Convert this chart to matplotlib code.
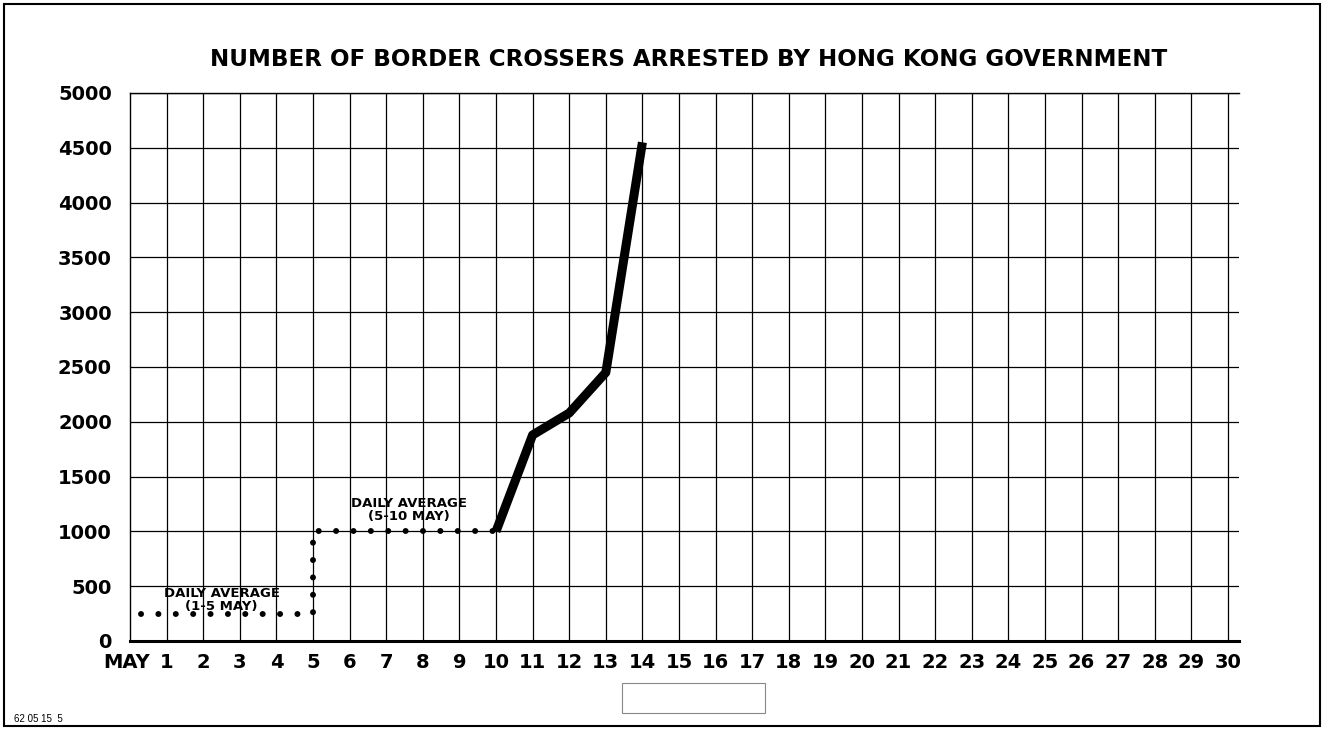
import numpy as np
import matplotlib.pyplot as plt
from matplotlib.patches import Rectangle

# arrests per day, 10-14 May
days = [10, 11, 12, 13, 14]
arrests = [1000, 1880, 2080, 2450, 4550]

# daily average steps (1-5 May, 5-10 May)
avg_days = [0.3, 5, 5, 10]
avg_vals = [250, 250, 1000, 1000]

day_ticks = list(range(1, 31))
y_ticks = list(range(0, 5001, 500))

title = "NUMBER OF BORDER CROSSERS ARRESTED BY HONG KONG GOVERNMENT"

fig = plt.figure(figsize=(13.31, 7.29), dpi=100)
ax = fig.add_axes([130 / 1331, 1 - 641 / 729, (1239 - 130) / 1331, (641 - 93) / 729])

ax.set_xlim(0, 30.3)
ax.set_ylim(0, 5000)

# grid
for d in day_ticks:
    ax.axvline(d, color="black", lw=0.9, zorder=1)
for v in y_ticks[1:]:
    ax.axhline(v, color="black", lw=0.9, zorder=1)

ax.plot(avg_days, avg_vals, color="black", lw=4.3,
        linestyle=(0, (0.01, 2.9)), dash_capstyle="round", zorder=3)
ax.plot(days, arrests, color="black", lw=6.5, solid_capstyle="butt",
        solid_joinstyle="round", zorder=4)

ax.text(2.5, 375, "DAILY AVERAGE\n(1-5 MAY)", ha="center", va="center",
        fontsize=9.5, fontweight="bold", linespacing=0.95, zorder=5)
ax.text(7.62, 1195, "DAILY AVERAGE\n(5-10 MAY)", ha="center", va="center",
        fontsize=9.5, fontweight="bold", linespacing=0.95, zorder=5)

ax.set_xticks(day_ticks)
ax.set_xticklabels([str(d) for d in day_ticks])
ax.set_yticks(y_ticks)
ax.tick_params(length=0, labelsize=14, pad=9)
ax.tick_params(axis="y", pad=13)
for lab in ax.get_xticklabels() + ax.get_yticklabels():
    lab.set_fontweight("bold")
ax.text(-0.1, -22 / 548, "MAY", transform=ax.get_xaxis_transform(), ha="center",
        va="center", fontsize=14, fontweight="bold")

ax.spines["right"].set_visible(False)
ax.spines["bottom"].set_linewidth(2.2)
ax.spines["left"].set_linewidth(1.0)
ax.spines["top"].set_linewidth(1.0)

fig.text(689 / 1331, 1 - 60 / 729, title, ha="center", va="center",
         fontsize=16.6, fontweight="bold")

fig.text(14 / 1331, 1 - 719 / 729, "62 05 15  5", ha="left", va="center",
         fontsize=7, family="Liberation Sans")

fig.patches.append(Rectangle((622 / 1331, 1 - 713 / 729), 143 / 1331, 30 / 729,
                             transform=fig.transFigure, fill=False,
                             edgecolor="#888888", lw=0.8))
fig.patches.append(Rectangle((4 / 1331, 3 / 729), 1316 / 1331, 722 / 729,
                             transform=fig.transFigure, fill=False,
                             edgecolor="black", lw=1.5))

fig.savefig("out.png", dpi=100)
